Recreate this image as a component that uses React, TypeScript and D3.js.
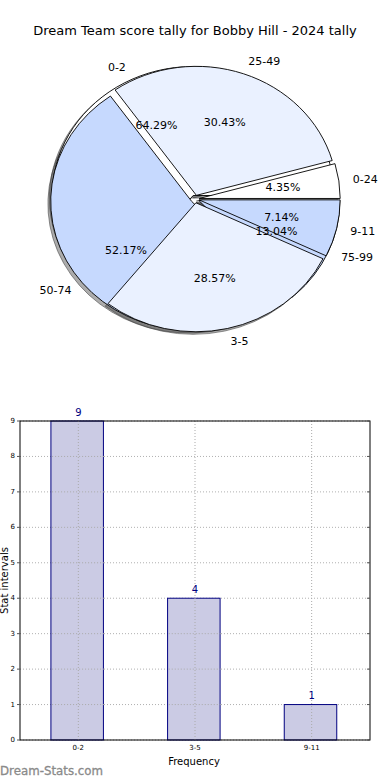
import React from "react";
import * as d3 from "d3";

const title = "Dream Team score tally for Bobby Hill - 2024 tally";
// Pie 1: stat intervals
const statCats = ["0-2", "3-5", "9-11"];
const statCounts = [9, 4, 1];
const statColors = ["#ffffff", "#eaf1ff", "#c6d9fe"];
// Pie 2: score ranges
const scoreCats = ["0-24", "25-49", "50-74", "75-99"];
const scoreCounts = [1, 7, 12, 3];
const scoreColors = ["#ffffff", "#eaf1ff", "#c6d9fe", "#c6d9fe"];
// Bar chart
const yTicks = [0, 1, 2, 3, 4, 5, 6, 7, 8, 9];

const W = 390;
const H = 780;
const cx = 195, cy = 199, rx = 141, ry = 129;
const explode = 0.03;
const font = "DejaVu Sans, sans-serif";

type W8 = { d: d3.PieArcDatum<number>; label: string; color: string; pct: string };

function makeWedges(vals: number[], cats: string[], colors: string[]): W8[] {
  const total = d3.sum(vals);
  const pie = d3.pie<number>().sort(null).startAngle(Math.PI / 2).endAngle(Math.PI / 2 - 2 * Math.PI);
  return pie(vals).map((d, i) => ({
    d,
    label: cats[i],
    color: colors[i],
    pct: ((vals[i] / total) * 100).toFixed(2) + "%",
  }));
}

export default function App() {
  const w1 = makeWedges(statCounts, statCats, statColors);
  const w2 = makeWedges(scoreCounts, scoreCats, scoreColors);
  const arc = d3.arc<d3.PieArcDatum<number>>().innerRadius(0).outerRadius(rx);
  const mid = (d: d3.PieArcDatum<number>) => (d.startAngle + d.endAngle) / 2;
  const off = (d: d3.PieArcDatum<number>) => {
    const a = mid(d);
    return [explode * rx * Math.sin(a), -explode * rx * Math.cos(a)];
  };
  const sy = ry / rx;

  const wedge = (w: W8, key: string, shadow = false) => {
    const [ox, oy] = off(w.d);
    if (shadow) {
      return (
        <path
          key={key}
          d={arc(w.d) || ""}
          transform={`translate(${ox - 0.02 * rx},${oy + 0.02 * rx})`}
          fill="rgba(70,70,70,0.45)"
          stroke="rgba(60,60,60,0.55)"
          strokeWidth={1}
          vectorEffect="non-scaling-stroke"
        />
      );
    }
    return (
      <path
        key={key}
        d={arc(w.d) || ""}
        transform={`translate(${ox},${oy})`}
        fill={w.color}
        stroke="#000"
        strokeWidth={0.9}
        vectorEffect="non-scaling-stroke"
      />
    );
  };

  const labelPos = (d: d3.PieArcDatum<number>, dist: number) => {
    const a = mid(d);
    const ex = explode * rx * Math.sin(a);
    const ey = -explode * ry * Math.cos(a);
    return [cx + ex + dist * rx * Math.sin(a), cy + ey - dist * ry * Math.cos(a), Math.sin(a)];
  };

  const all = [...w1, ...w2];
  const order: [W8, string][] = [
    [w1[0], "a0"],
    ...w2.map((w, i) => [w, "b" + i] as [W8, string]),
    [w1[1], "a1"],
    [w1[2], "a2"],
  ];

  // Bar chart
  const left = 20, right = 370, top = 421, bottom = 740;
  const x = d3.scaleLinear().domain([-0.5, 2.5]).range([left, right]);
  const y = d3.scaleLinear().domain([0, 9]).range([bottom, top]);
  const barW = 0.45;

  return (
    <svg width={W} height={H} style={{ position: "absolute", left: 0, top: 0, background: "#fff" }} fontFamily={font}>
      <text x={195} y={30} fontSize={13} textAnchor="middle" dominantBaseline="central" fill="#000">
        {title}
      </text>
      <g transform={`translate(${cx},${cy}) scale(1,${sy})`}>
        {all.map((w, i) => wedge(w, "s" + i, true))}
        {order.map(([w, k]) => wedge(w, k))}
      </g>
      {all.map((w, i) => {
        const [lx, ly, s] = labelPos(w.d, 1.1);
        return (
          <text key={"l" + i} x={lx} y={ly} fontSize={11} textAnchor={s > 0 ? "start" : "end"} dominantBaseline="central" fill="#000">
            {w.label}
          </text>
        );
      })}
      {all.map((w, i) => {
        const [lx, ly] = labelPos(w.d, 0.6);
        return (
          <text key={"p" + i} x={lx} y={ly} fontSize={11} textAnchor="middle" dominantBaseline="central" fill="#000">
            {w.pct}
          </text>
        );
      })}

      {/* bar chart */}
      <g>
        {yTicks.map((t) => (
          <line key={"gy" + t} x1={left} x2={right} y1={y(t)} y2={y(t)} stroke="#b0b0b0" strokeDasharray="1,2" />
        ))}
        {statCounts.map((v, i) => (
          <rect
            key={"bar" + i}
            x={x(i - barW / 2 - 0.01)}
            width={x(barW) - x(0)}
            y={y(v)}
            height={bottom - y(v)}
            fill="#cbcbe4"
            stroke="#000080"
            strokeWidth={1}
          />
        ))}
        {statCats.map((c, i) => (
          <line key={"gx" + c} x1={x(i)} x2={x(i)} y1={top} y2={bottom} stroke="#aaa" strokeDasharray="1,2" />
        ))}
        {statCounts.map((v, i) =>
          yTicks
            .filter((t) => t > 0 && t < v)
            .map((t) => (
              <line
                key={"gyb" + i + "-" + t}
                x1={x(i - barW / 2)}
                x2={x(i + barW / 2)}
                y1={y(t)}
                y2={y(t)}
                stroke="#aaa"
                strokeDasharray="1,2"
              />
            ))
        )}
        {statCounts.map((v, i) => (
          <text key={"v" + i} x={x(i)} y={y(v) - 9} fontSize={10} textAnchor="middle" dominantBaseline="central" fill="#000080">
            {v}
          </text>
        ))}
        <rect x={left} y={top} width={right - left} height={bottom - top} fill="none" stroke="#000" strokeWidth={1} />
        {yTicks.map((t) => (
          <g key={"ty" + t}>
            <line x1={left - 3} x2={left} y1={y(t)} y2={y(t)} stroke="#555" />
            <line x1={right - 3} x2={right} y1={y(t)} y2={y(t)} stroke="#555" />
            <text x={left - 5} y={y(t)} fontSize={7} textAnchor="end" dominantBaseline="central" fill="#000">
              {t}
            </text>
          </g>
        ))}
        {statCats.map((c, i) => (
          <text key={"tx" + i} x={x(i)} y={748} fontSize={7} textAnchor="middle" dominantBaseline="central" fill="#000">
            {c}
          </text>
        ))}
        <text x={194} y={761} fontSize={10} textAnchor="middle" dominantBaseline="central" fill="#000">
          Frequency
        </text>
        <text
          transform={`translate(4,${(top + bottom) / 2}) rotate(-90)`}
          fontSize={10}
          textAnchor="middle"
          dominantBaseline="central"
          fill="#000"
        >
          Stat intervals
        </text>
        <text x={0} y={771} fontSize={11.8} fill="#8a8a8a" stroke="#8a8a8a" strokeWidth={0.3} dominantBaseline="central">
          Dream-Stats.com
        </text>
      </g>
    </svg>
  );
}
